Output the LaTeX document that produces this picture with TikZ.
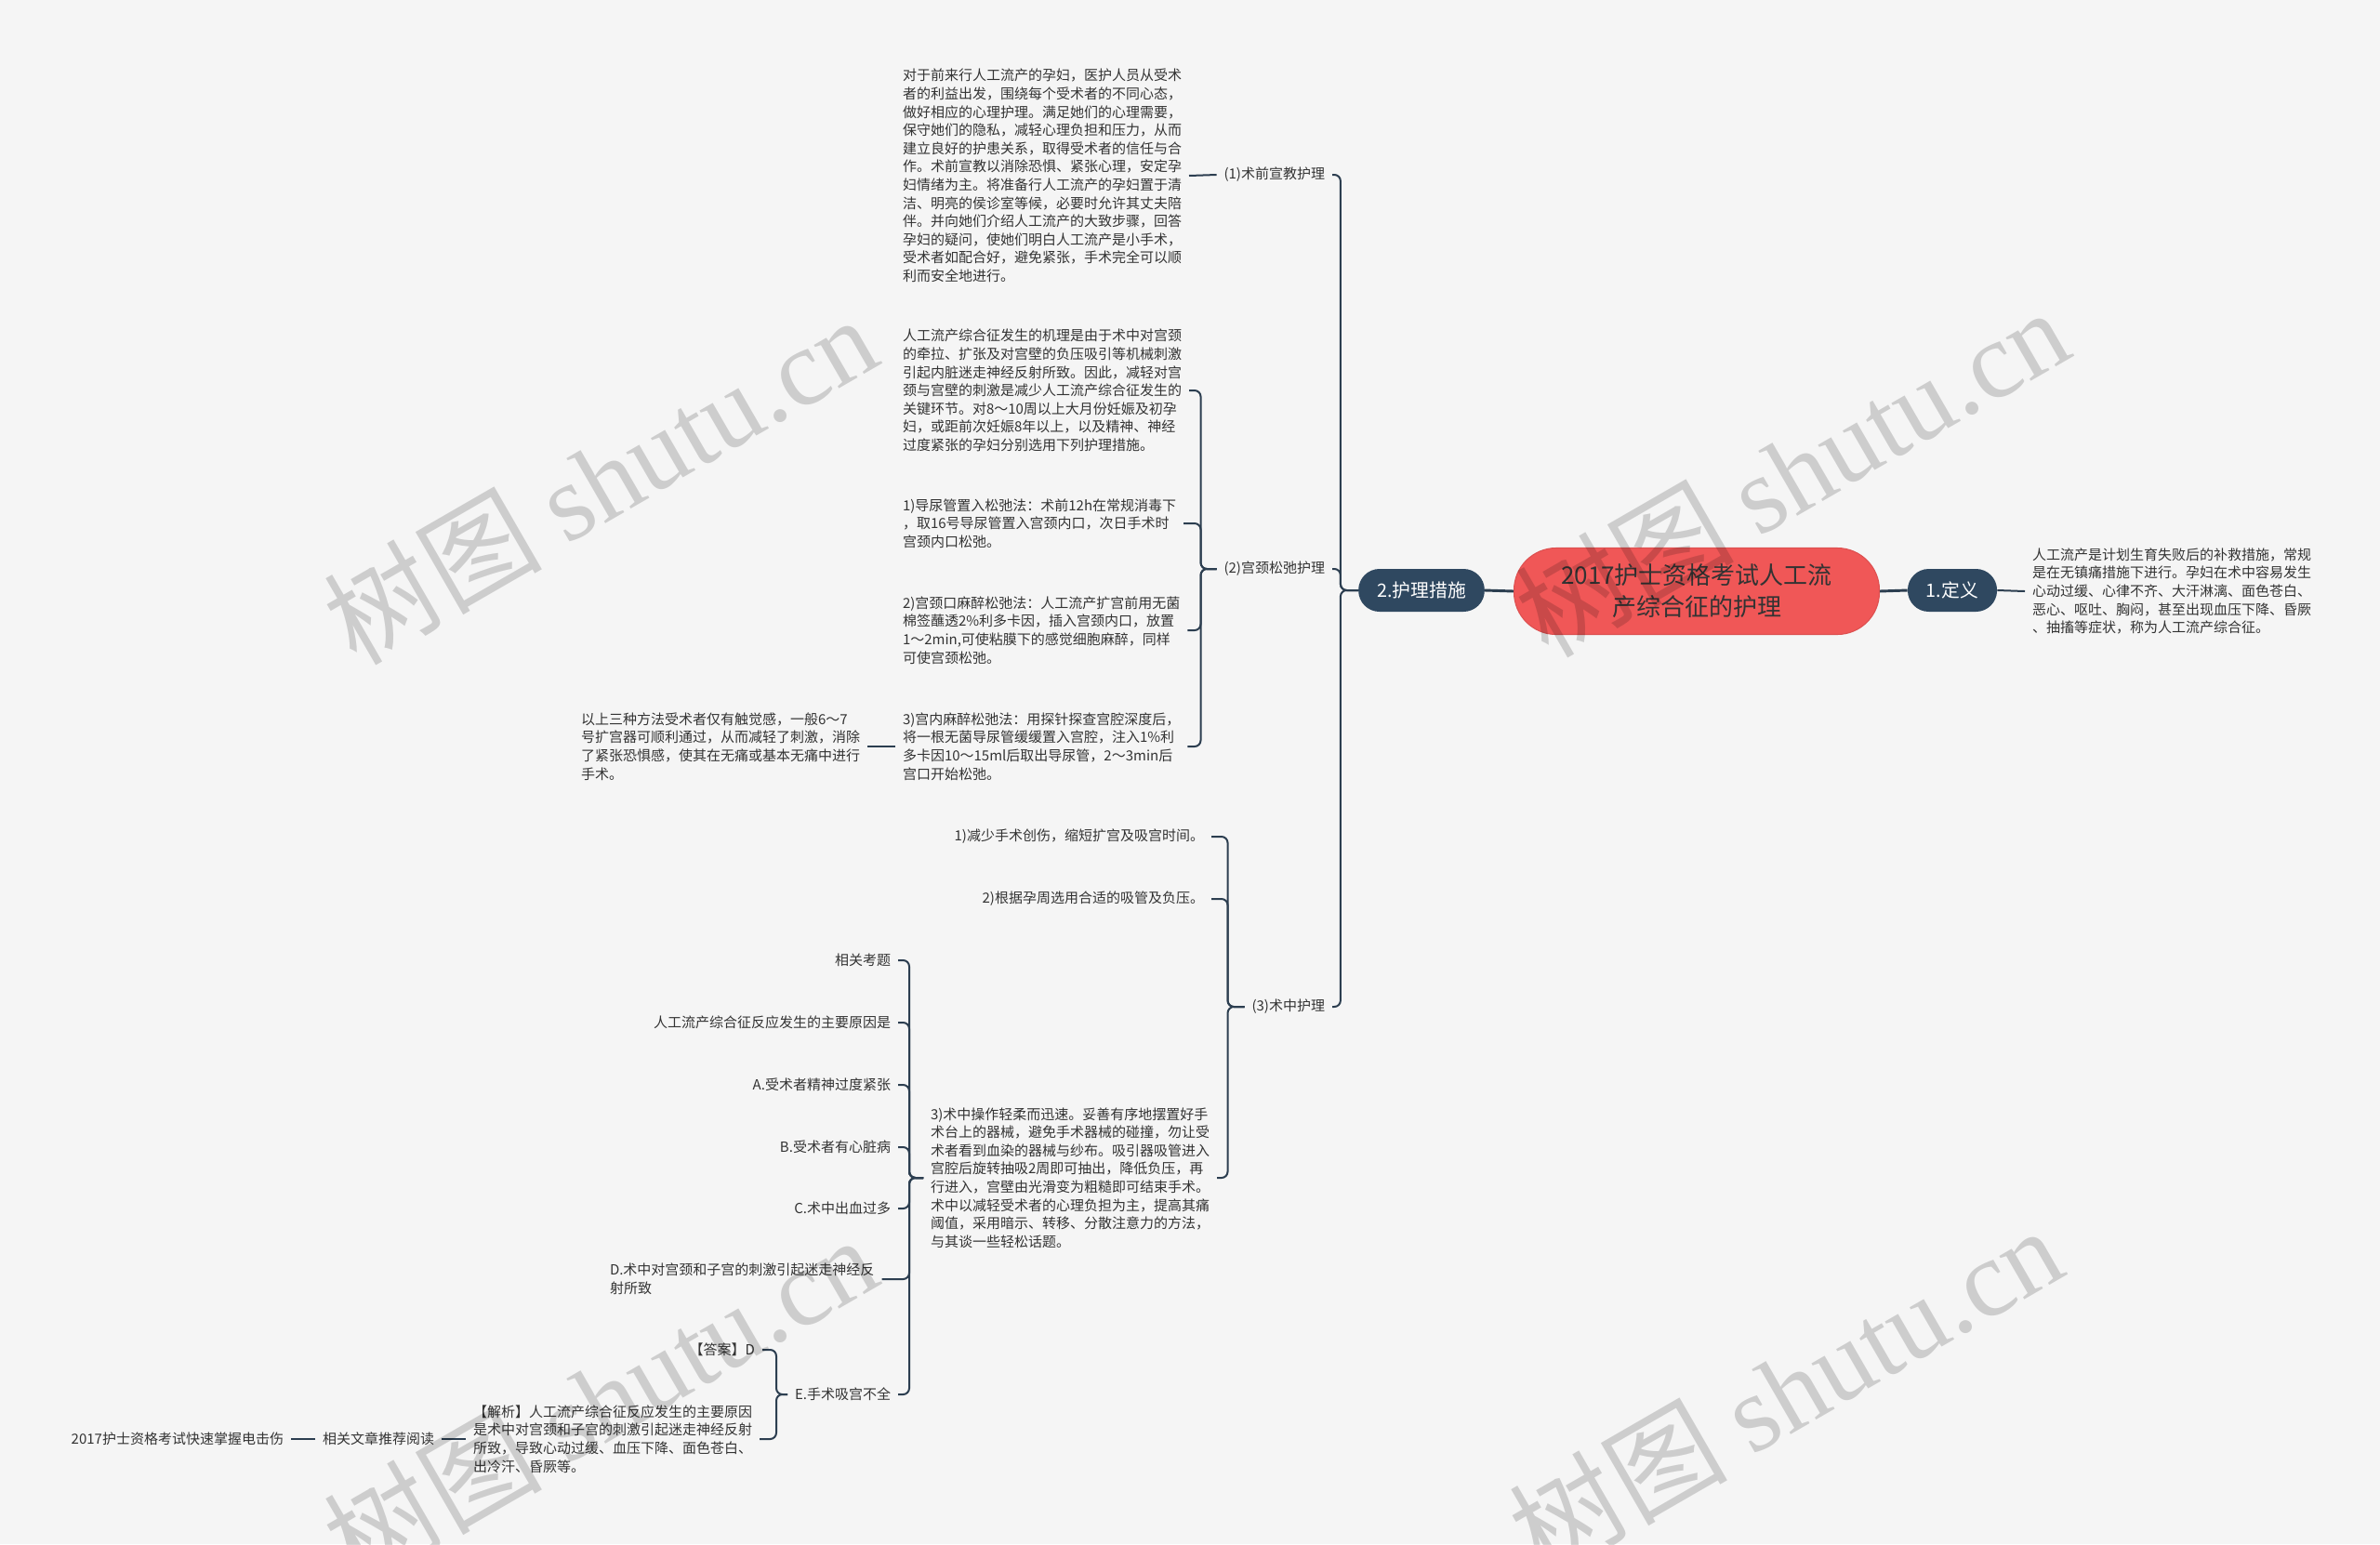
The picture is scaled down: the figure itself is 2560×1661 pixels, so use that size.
\documentclass[tikz,border=0pt]{standalone}
\usepackage{fontspec}
\setmainfont{Noto Sans CJK SC}
\newfontfamily\wmlatin{Liberation Serif}
\usetikzlibrary{calc}
\definecolor{bgc}{HTML}{F5F5F5}
\definecolor{linec}{HTML}{2C3E50}
\definecolor{pillc}{HTML}{2F4860}
\definecolor{rootc}{HTML}{F05757}
\definecolor{txtc}{HTML}{333333}
\begin{document}
\begin{tikzpicture}[x=0.75pt,y=-0.75pt,
  txtb/.style={font=\fontsize{11.25pt}{14.7pt}\selectfont, text=txtc, inner sep=0pt, outer xsep=6pt, outer ysep=0pt, align=left},
  lab/.style={font=\fontsize{11.25pt}{14.7pt}\selectfont, text=txtc, inner sep=0pt, outer xsep=6pt, outer ysep=0pt},
  conn/.style={draw=linec, line width=1.5pt, rounded corners=5pt},
  mainconn/.style={draw=linec, line width=2.2pt},
  pillnode/.style={fill=pillc, text=white, rounded corners=17pt, minimum height=34.5pt, inner xsep=15pt, inner ysep=0pt, font=\fontsize{14.85pt}{18pt}\selectfont},
  rootnode/.style={fill=rootc, draw=rootc!92!black, line width=0.8pt, rounded corners=34pt, minimum width=294.75pt, minimum height=69.75pt, align=center, text=txtc, font=\fontsize{19.5pt}{25.5pt}\selectfont},
  wm/.style={text=black, text opacity=0.16, font=\fontsize{88pt}{90pt}\selectfont, inner sep=0pt}
]
\fill[bgc] (0,0) rectangle (2560,1661);
\useasboundingbox (0,0) rectangle (2560,1661);

% root and level 1
\node[rootnode] (root) at (1825,636) {2017护士资格考试人工流\\产综合征的护理};
\node[pillnode] (def) at (2100,635) {1.定义};
\node[pillnode] (care) at (1529,635) {2.护理措施};
\node[txtb, anchor=west] (defT) at (2178,636) {人工流产是计划生育失败后的补救措施，常规\\是在无镇痛措施下进行。孕妇在术中容易发生\\心动过缓、心律不齐、大汗淋漓、面色苍白、\\恶心、呕吐、胸闷，甚至出现血压下降、昏厥\\、抽搐等症状，称为人工流产综合征。};

% level 2 labels
\node[lab, anchor=east] (c1) at (1433,188) {(1)术前宣教护理};
\node[lab, anchor=east] (c2) at (1433,612) {(2)宫颈松弛护理};
\node[lab, anchor=east] (c3) at (1433,1083) {(3)术中护理};

% (1)
\node[txtb, anchor=west] (t1) at (963,189) {对于前来行人工流产的孕妇，医护人员从受术\\者的利益出发，围绕每个受术者的不同心态，\\做好相应的心理护理。满足她们的心理需要，\\保守她们的隐私，减轻心理负担和压力，从而\\建立良好的护患关系，取得受术者的信任与合\\作。术前宣教以消除恐惧、紧张心理，安定孕\\妇情绪为主。将准备行人工流产的孕妇置于清\\洁、明亮的侯诊室等候，必要时允许其丈夫陪\\伴。并向她们介绍人工流产的大致步骤，回答\\孕妇的疑问，使她们明白人工流产是小手术，\\受术者如配合好，避免紧张，手术完全可以顺\\利而安全地进行。};

% (2)
\node[txtb, anchor=west] (t2a) at (963,420) {人工流产综合征发生的机理是由于术中对宫颈\\的牵拉、扩张及对宫壁的负压吸引等机械刺激\\引起内脏迷走神经反射所致。因此，减轻对宫\\颈与宫壁的刺激是减少人工流产综合征发生的\\关键环节。对8～10周以上大月份妊娠及初孕\\妇，或距前次妊娠8年以上，以及精神、神经\\过度紧张的孕妇分别选用下列护理措施。};
\node[txtb, anchor=west] (t2b) at (963,563) {1)导尿管置入松弛法：术前12h在常规消毒下\\，取16号导尿管置入宫颈内口，次日手术时\\宫颈内口松弛。};
\node[txtb, anchor=west] (t2c) at (963,678) {2)宫颈口麻醉松弛法：人工流产扩宫前用无菌\\棉签蘸透2\%利多卡因，插入宫颈内口，放置\\1～2min,可使粘膜下的感觉细胞麻醉，同样\\可使宫颈松弛。};
\node[txtb, anchor=west] (t2d) at (963,803) {3)宫内麻醉松弛法：用探针探查宫腔深度后，\\将一根无菌导尿管缓缓置入宫腔，注入1\%利\\多卡因10～15ml后取出导尿管，2～3min后\\宫口开始松弛。};
\node[txtb, anchor=west] (t2e) at (617,803) {以上三种方法受术者仅有触觉感，一般6～7\\号扩宫器可顺利通过，从而减轻了刺激，消除\\了紧张恐惧感，使其在无痛或基本无痛中进行\\手术。};

% (3)
\node[lab, anchor=east] (t31) at (1303,900) {1)减少手术创伤，缩短扩宫及吸宫时间。};
\node[lab, anchor=east] (t32) at (1303,967) {2)根据孕周选用合适的吸管及负压。};
\node[txtb, anchor=west] (t33) at (993,1267) {3)术中操作轻柔而迅速。妥善有序地摆置好手\\术台上的器械，避免手术器械的碰撞，勿让受\\术者看到血染的器械与纱布。吸引器吸管进入\\宫腔后旋转抽吸2周即可抽出，降低负压，再\\行进入，宫壁由光滑变为粗糙即可结束手术。\\术中以减轻受术者的心理负担为主，提高其痛\\阈值，采用暗示、转移、分散注意力的方法，\\与其谈一些轻松话题。};

% question block
\node[lab, anchor=east] (q0) at (966,1033) {相关考题};
\node[lab, anchor=east] (q1) at (966,1100) {人工流产综合征反应发生的主要原因是};
\node[lab, anchor=east] (qA) at (966,1167) {A.受术者精神过度紧张};
\node[lab, anchor=east] (qB) at (966,1234) {B.受术者有心脏病};
\node[lab, anchor=east] (qC) at (966,1300) {C.术中出血过多};
\node[txtb, anchor=west] (qD) at (648,1376) {D.术中对宫颈和子宫的刺激引起迷走神经反\\射所致};
\node[lab, anchor=east] (qE) at (966,1500) {E.手术吸宫不全};
\node[lab, anchor=east] (ans) at (820,1452) {【答案】D};
\node[txtb, anchor=west] (jx) at (501,1548) {【解析】人工流产综合征反应发生的主要原因\\是术中对宫颈和子宫的刺激引起迷走神经反射\\所致，导致心动过缓、血压下降、面色苍白、\\出冷汗、昏厥等。};
\node[lab, anchor=east] (rel) at (475,1548) {相关文章推荐阅读};
\node[lab, anchor=east] (last) at (313,1548) {2017护士资格考试快速掌握电击伤};

% connectors
\draw[mainconn] (root.east) -- (def.west);
\draw[mainconn] (root.west) -- (care.east);
\draw[conn] (def.east) -- (defT.west);
\foreach \c in {c1,c2,c3} \draw[conn] (care.west) -- ++(-19,0) |- (\c.east);
\draw[conn] (c1.west) -- (t1.east);
\foreach \c in {t2a,t2b,t2c,t2d} \draw[conn] (c2.west) -- ++(-17,0) |- (\c.east);
\draw[conn] (t2d.west) -- (t2e.east);
\foreach \c in {t31,t32,t33} \draw[conn] (c3.west) -- ++(-18,0) |- (\c.east);
\foreach \c in {q0,q1,qA,qB,qC,qD,qE} \draw[conn] (t33.west) -- ++(-15,0) |- (\c.east);
\foreach \c in {ans,jx} \draw[conn] (qE.west) -- ++(-12,0) |- (\c.east);
\draw[conn] (jx.west) -- (rel.east);
\draw[conn] (rel.west) -- (last.east);

% watermarks
\node[wm, rotate=30] (w1) at (645,515) {树图 {\wmlatin shutu.cn}};
\node[wm, rotate=30] (w2) at (1927,507) {树图 {\wmlatin shutu.cn}};
\node[wm, rotate=30] (w3) at (1920,1495) {树图 {\wmlatin shutu.cn}};
\node[wm, rotate=30] (w4) at (645,1505) {树图 {\wmlatin shutu.cn}};
\end{tikzpicture}
\end{document}
